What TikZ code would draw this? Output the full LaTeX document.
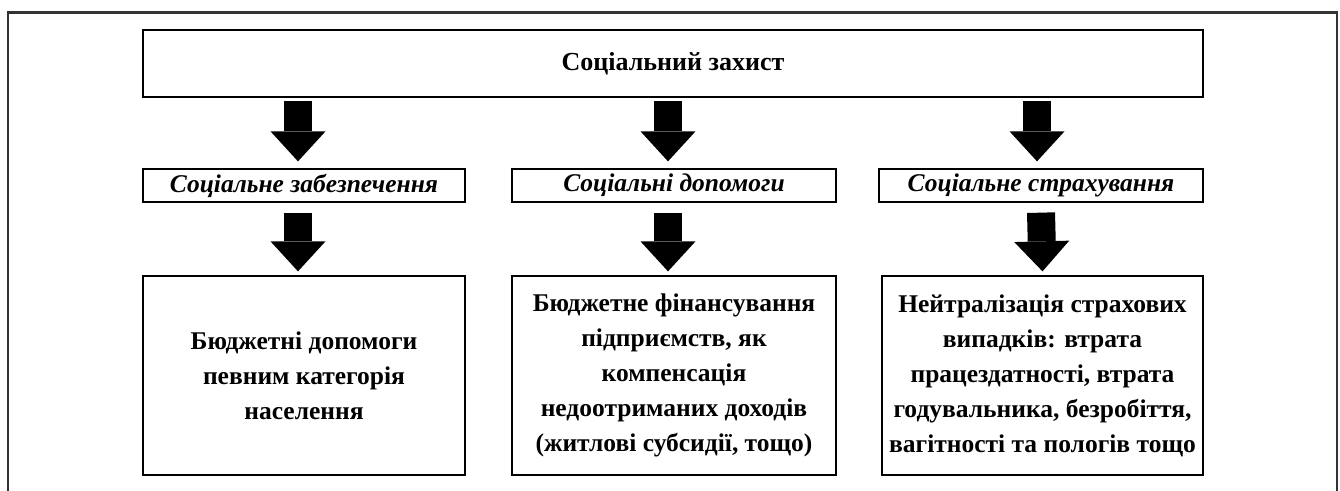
\documentclass[tikz,border=0pt]{standalone}
\usepackage{fontspec}
\setmainfont{Liberation Serif}
\usetikzlibrary{arrows.meta,calc}
\tikzset{
  box/.style={draw=black, line width=1.3pt, inner sep=0pt, align=center, font=\bfseries\fontsize{25.5}{35}\selectfont},
  topbox/.style={box, minimum width=1060pt, minimum height=67pt, font=\bfseries\fontsize{26}{30}\selectfont},
  subbox/.style={box, minimum height=33pt, font=\bfseries\itshape\fontsize{25.5}{28}\selectfont},
  botbox/.style={box, minimum height=199pt},
  bigarrow/.style={line width=28pt, -{Triangle[width=55pt,length=30pt,line width=0pt]}},
}
\begin{document}
\begin{tikzpicture}[x=1pt,y=-1pt]
\useasboundingbox (0,0) rectangle (1340,490);
\fill[white] (0,0) rectangle (1340,490);
% outer frame
\draw[line width=3pt, black!80] (8,12) -- (1337,12);
\draw[line width=1.5pt, black!80] (8,11) -- (8,495);
\draw[line width=1.5pt, black!80] (1337,11) -- (1337,495);

\node[topbox] (top) at (673,63.5) {Соціальний захист};
\node[subbox, minimum width=322pt] (s1) at (304,185.5) {Соціальне забезпечення};
\node[subbox, minimum width=324pt] (s2) at (674,185.5) {Соціальні допомоги};
\node[subbox, minimum width=324pt] (s3) at (1041,185.5) {Соціальне страхування};

\node[botbox, minimum width=322pt] (b1) at (304,375.5) {Бюджетні допомоги\\певним категорія\\населення};
\node[botbox, minimum width=324pt] (b2) at (674,375.5) {Бюджетне фінансування\\підприємств, як\\компенсація\\недоотриманих доходів\\(житлові субсидії, тощо)};
\node[botbox, minimum width=321pt] (b3) at (1042.5,375.5) {Нейтралізація страхових\\випадків: втрата\\працездатності, втрата\\годувальника, безробіття,\\вагітності та пологів тощо};

\draw[bigarrow] ($(top.south -| s1.north)+(-6,3)$) -- ($(s1.north)+(-6,-7)$);
\draw[bigarrow] ($(top.south -| s2.north)+(-6,3)$) -- ($(s2.north)+(-6,-7)$);
\draw[bigarrow] ($(top.south -| s3.north)+(-4,3)$) -- ($(s3.north)+(-4,-7)$);

\draw[bigarrow] ($(s1.south)+(-6,10)$) -- ($(b1.north)+(-6,-4)$);
\draw[bigarrow] ($(s2.south)+(-6,10)$) -- ($(b2.north)+(-6,-4)$);
\draw[bigarrow] ($(s3.south)+(0,10)$) -- ($(b3.north)+(0,-4)$);
\end{tikzpicture}
\end{document}
